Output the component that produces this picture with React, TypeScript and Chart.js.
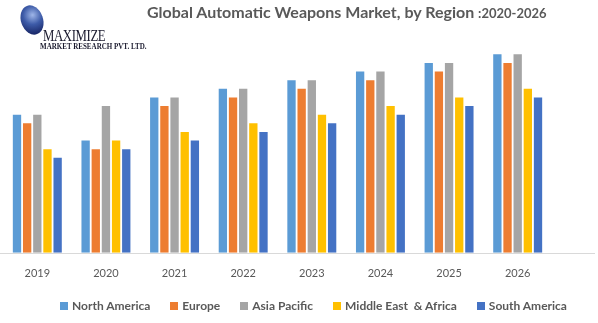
import React, { useEffect, useRef } from "react";
import { Chart, registerables } from "chart.js";

Chart.register(...registerables);

const years = ["2019", "2020", "2021", "2022", "2023", "2024", "2025", "2026"];
const northAmerica = [16, 13, 18, 19, 20, 21, 22, 23];
const europe = [15, 12, 17, 18, 19, 20, 21, 22];
const asiaPacific = [16, 17, 18, 19, 20, 21, 22, 23];
const middleEastAfrica = [12, 13, 14, 15, 16, 17, 18, 19];
const southAmerica = [11, 12, 13, 14, 15, 16, 17, 18];

const seriesNames = ["North America", "Europe", "Asia Pacific", "Middle East  & Africa", "South America"];
const seriesColors = ["#5B9BD5", "#ED7D31", "#A5A5A5", "#FFC000", "#4472C4"];

const axisLinePlugin = {
  id: "axisLine",
  afterDatasetsDraw(chart: any) {
    const { ctx, chartArea } = chart;
    ctx.save();
    ctx.strokeStyle = "#D9D9D9";
    ctx.lineWidth = 1;
    ctx.beginPath();
    ctx.moveTo(0, Math.round(chartArea.bottom) + 0.5);
    ctx.lineTo(595, Math.round(chartArea.bottom) + 0.5);
    ctx.stroke();
    ctx.restore();
  },
};

export default function App() {
  const ref = useRef<HTMLCanvasElement>(null);
  useEffect(() => {
    document.body.style.margin = "0";
    const values = [northAmerica, europe, asiaPacific, middleEastAfrica, southAmerica];
    const chart = new Chart(ref.current!, {
      type: "bar",
      data: {
        labels: years,
        datasets: values.map((d, i) => ({
          label: seriesNames[i],
          data: d,
          backgroundColor: seriesColors[i],
          borderWidth: 0,
          categoryPercentage: 0.74,
          barPercentage: 0.82,
        })),
      },
      options: {
        responsive: false,
        animation: false,
        layout: { padding: { left: 3, right: 46, top: 37, bottom: 37 } },
        scales: {
          x: {
            grid: { display: false },
            border: { display: false },
            ticks: { color: "#595959", font: { family: "Lato", size: 11 }, padding: 6 },
          },
          y: {
            display: false,
            min: 0,
            max: 25,
          },
        },
        plugins: {
          title: { display: false },
          tooltip: { enabled: false },
          legend: { display: false },
        },
      },
      plugins: [axisLinePlugin],
    });
    return () => chart.destroy();
  }, []);

  return (
    <div style={{ position: "relative", width: 598, height: 323, background: "#fff", overflow: "hidden" }}>
      <canvas ref={ref} width={598} height={323} style={{ position: "absolute", left: 0, top: 0 }} />
      <div
        style={{
          position: "absolute",
          left: 21,
          top: 5,
          width: 22,
          height: 30,
          borderRadius: "50%",
          background: "radial-gradient(circle at 60% 35%, #9fb6e8 0%, #3d5ba8 40%, #1b2a6b 80%)",
          transform: "rotate(-20deg)",
        }}
      />
      <div
        style={{
          position: "absolute",
          left: 43,
          top: 28,
          fontFamily: "'Liberation Serif', serif",
          fontSize: 16,
          lineHeight: "16px",
          color: "#1a1a2e",
          transform: "scaleX(0.8)",
          transformOrigin: "left top",
          letterSpacing: "-0.5px",
        }}
      >
        MAXIMIZE
      </div>
      <div
        style={{
          position: "absolute",
          left: 40,
          top: 42,
          fontFamily: "'Liberation Serif', serif",
          fontSize: 9,
          lineHeight: "9px",
          fontWeight: "bold",
          color: "#1a1a2e",
          transform: "scaleX(0.78)",
          transformOrigin: "left top",
          whiteSpace: "nowrap",
        }}
      >
        MARKET RESEARCH PVT. LTD.
      </div>
      <div
        style={{
          position: "absolute",
          left: 147,
          top: 2,
          fontFamily: "Lato",
          fontWeight: "bold",
          color: "#595959",
          whiteSpace: "nowrap",
          lineHeight: "20px",
        }}
      >
        <span style={{ fontSize: 16 }}>Global Automatic Weapons Market, by Region </span>
        <span style={{ fontSize: 13 }}>:2020-2026</span>
      </div>
      <div
        style={{
          position: "absolute",
          left: 60,
          top: 298,
          display: "flex",
          alignItems: "center",
          fontFamily: "Lato",
          fontWeight: "bold",
          fontSize: 12,
          lineHeight: "16px",
          color: "#595959",
          whiteSpace: "pre",
        }}
      >
        {seriesNames.map((n, i) => (
          <div key={n} style={{ display: "flex", alignItems: "center", marginRight: 20 }}>
            <span style={{ display: "inline-block", width: 8, height: 8, background: seriesColors[i], marginRight: 4 }} />
            <span>{n}</span>
          </div>
        ))}
      </div>
    </div>
  );
}
